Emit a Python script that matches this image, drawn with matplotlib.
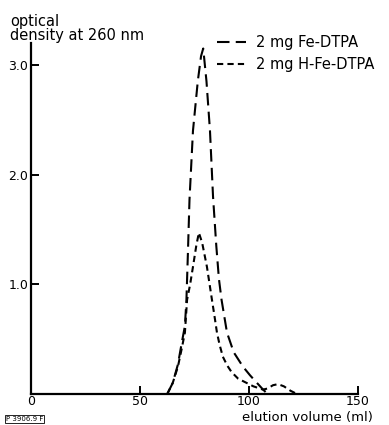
import matplotlib
matplotlib.use("Agg")
import matplotlib.pyplot as plt

# elution profiles (ml, optical density at 260 nm)
fe_x = [62.5, 65, 67.4, 69, 70.6, 71.3, 72.0, 72.7, 74.3, 76.5, 78, 79, 80.5, 82.1,
        83.5, 85, 86.2, 87.4, 89.9, 93, 97.2, 100.5, 103.7, 106, 108.5]
fe_y = [0, 0.1, 0.27, 0.45, 0.62, 0.86, 1.3, 1.77, 2.4, 2.85, 3.08, 3.15, 2.85, 2.4,
        1.8, 1.35, 1.05, 0.86, 0.56, 0.38, 0.25, 0.17, 0.1, 0.05, 0]

hfe_x = [62.5, 65, 67.4, 69, 70.6, 71.6, 73, 74.3, 75.8, 77, 78.5, 80.7, 83, 84.4,
         85.3, 86.5, 88, 90, 92, 95, 99, 102, 105, 106.4, 108.5, 111, 113.3, 116,
         119, 122]
hfe_y = [0, 0.1, 0.25, 0.4, 0.56, 0.86, 1.0, 1.16, 1.35, 1.47, 1.38, 1.16, 0.86, 0.68,
         0.56, 0.45, 0.34, 0.26, 0.2, 0.14, 0.1, 0.07, 0.05, 0.04, 0.05, 0.08, 0.09,
         0.07, 0.03, 0]

x_ticks = [0, 50, 100, 150]
x_labels = ["0", "50", "100", "150"]
y_ticks = [1.0, 2.0, 3.0]
y_labels = ["1.0", "2.0", "3.0"]

plt.rcParams["font.family"] = ["DejaVu Sans"]

fig = plt.figure(figsize=(3.89, 4.25), dpi=100)
ax = fig.add_axes([31 / 389, 1 - 394 / 425, 327 / 389, 351 / 425])

ax.plot(fe_x, fe_y, color="black", lw=1.5, dashes=(6, 3), label="2 mg Fe-DTPA")
ax.plot(hfe_x, hfe_y, color="black", lw=1.5, dashes=(3, 2), label="2 mg H-Fe-DTPA")

ax.set_xlim(0, 150)
ax.set_ylim(0, 3.2)
for s in ["top", "right"]:
    ax.spines[s].set_visible(False)
ax.spines["left"].set_linewidth(1.6)
ax.spines["bottom"].set_linewidth(1.6)

ax.set_xticks(x_ticks, x_labels, fontsize=9)
ax.set_yticks(y_ticks, y_labels, fontsize=9)
ax.tick_params(direction="in", length=6, width=1.4, pad=2)
ax.tick_params(axis="x", pad=1)

fig.text(10 / 389, 1 - 14 / 425, "optical\ndensity at 260 nm", fontsize=10.5,
         ha="left", va="top", linespacing=0.95)
fig.text(373 / 389, 1 - 417 / 425, "elution volume (ml)", fontsize=9.5,
         ha="right", va="center")
fig.text(6 / 389, 1 - 419 / 425, "P 3906.9 F", fontsize=5, ha="left", va="center",
         bbox=dict(boxstyle="square,pad=0.12", fc="white", ec="black", lw=0.6))

ax.legend(loc="upper left", bbox_to_anchor=(217 / 389, 1 - 35 / 425),
          bbox_transform=fig.transFigure, frameon=False, fontsize=10.5,
          handlelength=2.0, handletextpad=0.7, labelspacing=0.5, borderpad=0,
          borderaxespad=0)

fig.savefig("out.png", dpi=100)
